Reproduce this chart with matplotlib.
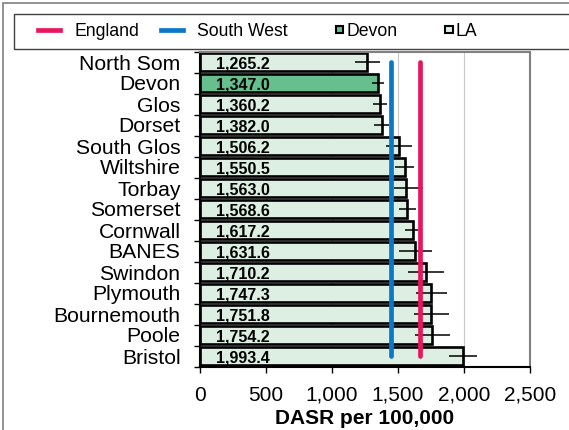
import matplotlib
matplotlib.use("Agg")
import matplotlib.pyplot as plt
from matplotlib.lines import Line2D
from matplotlib.patches import Rectangle
from matplotlib.legend_handler import HandlerBase
import numpy as np

plt.rcParams['font.family'] = ['Liberation Sans', 'DejaVu Sans']

categories = ["North Som", "Devon", "Glos", "Dorset", "South Glos", "Wiltshire",
              "Torbay", "Somerset", "Cornwall", "BANES", "Swindon", "Plymouth",
              "Bournemouth", "Poole", "Bristol"]
values = [1265.2, 1347.0, 1360.2, 1382.0, 1506.2, 1550.5, 1563.0, 1568.6,
          1617.2, 1631.6, 1710.2, 1747.3, 1751.8, 1754.2, 1993.4]
ci_low = [1175, 1300, 1308, 1320, 1409, 1477, 1470, 1510, 1553, 1510,
          1578, 1636, 1624, 1629, 1889]
ci_high = [1365, 1396, 1418, 1432, 1608, 1623, 1692, 1634, 1654, 1760,
           1846, 1869, 1885, 1891, 2101]
england = 1667
south_west = 1447
highlight = "Devon"
xticks = [0, 500, 1000, 1500, 2000, 2500]

c_la = "#dcefe2"
c_dev = "#66bf8c"
c_eng = "#e8175d"
c_sw = "#0a78c8"

W, H = 569, 430
fig = plt.figure(figsize=(W / 100, H / 100), dpi=100)
ax = fig.add_axes([200 / W, 1 - 366.5 / H, 330 / W, 315 / H])

y = np.arange(len(categories))
colors = [c_dev if c == highlight else c_la for c in categories]
ax.barh(y, values, height=0.84, color=colors, edgecolor="black", linewidth=1.9, zorder=2)

v = np.array(values)
xerr = np.vstack([v - np.array(ci_low), np.array(ci_high) - v])
ax.errorbar(values, y, xerr=xerr, fmt="none", ecolor="black", elinewidth=1.1,
            capsize=0, zorder=3)

ax.plot([england] * len(y), y, color=c_eng, lw=3.4, solid_capstyle="round", zorder=4)
ax.plot([south_west] * len(y), y, color=c_sw, lw=3.4, solid_capstyle="round", zorder=4)

for yi, val in zip(y, values):
    ax.text(120, yi + 0.3, f"{val:,.1f}", fontsize=11.5, fontweight="bold",
            ha="left", va="baseline", zorder=5)

ax.set_ylim(len(y) - 0.5, -0.5)
ax.set_xlim(0, 2500)
ax.set_xticks(xticks)
ax.set_xticklabels([f"{t:,}" for t in xticks], fontsize=15)
ax.set_yticks(y)
ax.set_yticklabels(categories, fontsize=15.2)
ax.set_yticks(np.arange(len(y) + 1) - 0.5, minor=True)
ax.tick_params(axis="y", which="major", length=0, pad=14)
ax.tick_params(axis="y", which="minor", length=4, width=1, direction="out", color="black")
ax.tick_params(axis="x", length=4, width=1, direction="out", pad=10)
ax.set_xlabel("DASR per 100,000", fontsize=15, fontweight="bold", labelpad=3)

ax.grid(axis="x", color="#c8c8c8", lw=0.8, zorder=0)
ax.set_axisbelow(True)
for s in ["left", "bottom"]:
    ax.spines[s].set_color("black")
    ax.spines[s].set_linewidth(1.5)
for s in ["top", "right"]:
    ax.spines[s].set_color("#808080")
    ax.spines[s].set_linewidth(1.5)

# outer chart border and legend box
fig.patches.append(Rectangle((3 / W, -0.05), 1.2, 1 - 3 / H + 0.05, transform=fig.transFigure,
                             fill=False, edgecolor="#808080", lw=1.2))
fig.patches.append(Rectangle((14 / W, 1 - 49 / H), 1.2, 35 / H, transform=fig.transFigure,
                             fill=False, edgecolor="#404040", lw=1.0))


class SquareRight(HandlerBase):
    """Small square placed right next to the label text (Excel style)."""
    def create_artists(self, legend, orig_handle, xdescent, ydescent, width, height,
                       fontsize, trans):
        s = 5.2
        pad = legend.handletextpad * fontsize
        x0 = width + pad - s - 2.0 - xdescent
        y0 = (height - s) / 2 - ydescent
        r = Rectangle((x0, y0), s, s, facecolor=orig_handle.get_markerfacecolor(),
                      edgecolor="black", lw=1.5, transform=trans)
        return [r]


handles = [
    Line2D([], [], color=c_eng, lw=3.4),
    Line2D([], [], color=c_sw, lw=3.4),
    Line2D([], [], ls="none", marker="s", markerfacecolor=c_dev),
    Line2D([], [], ls="none", marker="s", markerfacecolor=c_la),
]
fig.legend(handles, ["England", "South West", "Devon", "LA"], loc="center left",
           bbox_to_anchor=(38 / W, 1 - 31.5 / H), ncol=4, frameon=False,
           fontsize=12.7, handlelength=1.25, handletextpad=0.8, columnspacing=1.25,
           borderpad=0, borderaxespad=0,
           handler_map={handles[2]: SquareRight(), handles[3]: SquareRight()})

fig.savefig("out.png", dpi=100)
